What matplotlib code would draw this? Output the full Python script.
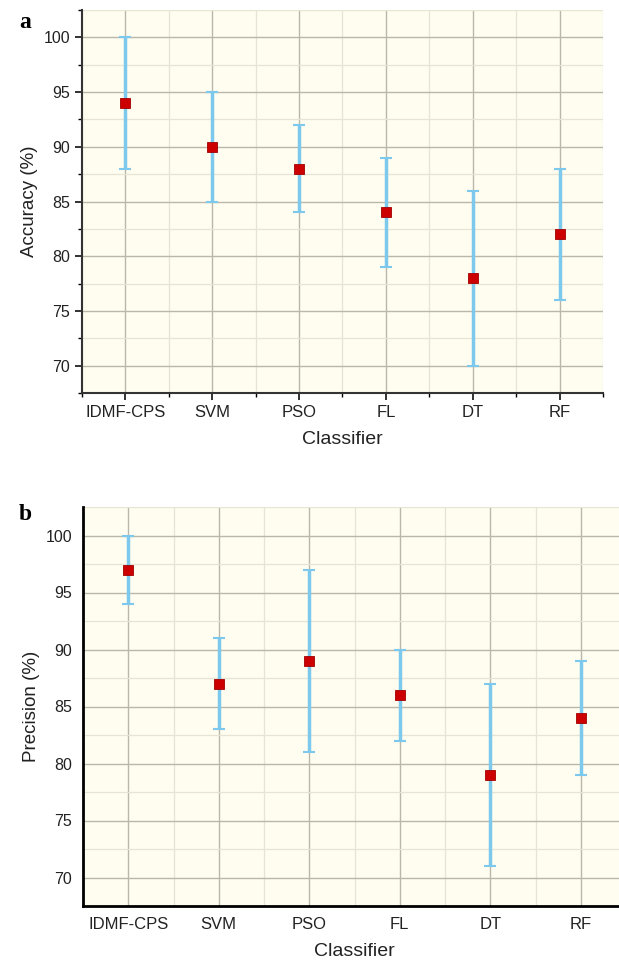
import matplotlib.pyplot as plt
from matplotlib.ticker import MultipleLocator

classifiers = ['IDMF-CPS', 'SVM', 'PSO', 'FL', 'DT', 'RF']
acc_mean = [94, 90, 88, 84, 78, 82]
acc_low = [88, 85, 84, 79, 70, 76]
acc_high = [100, 95, 92, 89, 86, 88]
prec_mean = [97, 87, 89, 86, 79, 84]
prec_low = [94, 83, 81, 82, 71, 79]
prec_high = [100, 91, 97, 90, 87, 89]

plt.rcParams['font.family'] = ['Liberation Sans', 'DejaVu Sans']

bg = '#fffdf0'
bar_c = '#7dc9ee'
mark_c = '#cc0000'

fig = plt.figure(figsize=(6.19, 9.69), dpi=100)
ax1 = fig.add_axes([82/619, 1-393/969, (603-82)/619, (393-10)/969])
ax2 = fig.add_axes([83/619, 1-906/969, (626-83)/619, (906-507)/969])

def draw(ax, mean, low, high, ylabel, ticks_on):
    x = list(range(1, len(classifiers)+1))
    err = [[m-l for m, l in zip(mean, low)], [h-m for m, h in zip(mean, high)]]
    ax.set_facecolor(bg)
    ax.errorbar(x, mean, yerr=err, fmt='none', ecolor=bar_c, elinewidth=2.5,
                capsize=4, capthick=1.5, zorder=3)
    ax.plot(x, mean, 's', color=mark_c, markersize=7.5, markeredgecolor='#a00000',
            markeredgewidth=0.6, zorder=4)
    ax.set_xlim(0.5, 6.5)
    ax.set_ylim(67.5, 102.5)
    ax.set_xticks(x)
    ax.set_xticklabels(classifiers)
    ax.set_xticks([i + 0.5 for i in range(0, 7)], minor=True)
    ax.yaxis.set_major_locator(MultipleLocator(5))
    ax.yaxis.set_minor_locator(MultipleLocator(2.5))
    ax.set_axisbelow(True)
    ax.grid(which='major', color='#b9b7aa', lw=1.0)
    ax.grid(which='minor', color='#e6e4d4', lw=0.9)
    for s in ['top', 'right']:
        ax.spines[s].set_visible(False)
    ax.tick_params(axis='x', labelsize=12, colors='#222222')
    ax.tick_params(axis='y', labelsize=11.5, colors='#222222')
    if ticks_on:
        for s in ['left', 'bottom']:
            ax.spines[s].set_color('#333333')
            ax.spines[s].set_linewidth(1.5)
        ax.tick_params(which='major', length=5, width=1.3, direction='out')
        ax.tick_params(which='minor', length=3, width=1.0, direction='out')
    else:
        for s in ['left', 'bottom']:
            ax.spines[s].set_color('black')
            ax.spines[s].set_linewidth(2)
        ax.tick_params(which='both', length=0, pad=8)
    ax.set_xlabel('Classifier', fontsize=14, labelpad=8, color='#222222')
    ax.set_ylabel(ylabel, fontsize=13.5, labelpad=4, color='#222222')

draw(ax1, acc_mean, acc_low, acc_high, 'Accuracy (%)', True)
draw(ax2, prec_mean, prec_low, prec_high, 'Precision (%)', False)

fig.text(25/619, 1-22/969, 'a', fontsize=17, fontweight='bold',
         family='Liberation Serif', ha='center', va='center')
fig.text(25/619, 1-515/969, 'b', fontsize=17, fontweight='bold',
         family='Liberation Serif', ha='center', va='center')

fig.savefig('out.png', dpi=100, facecolor='white')
